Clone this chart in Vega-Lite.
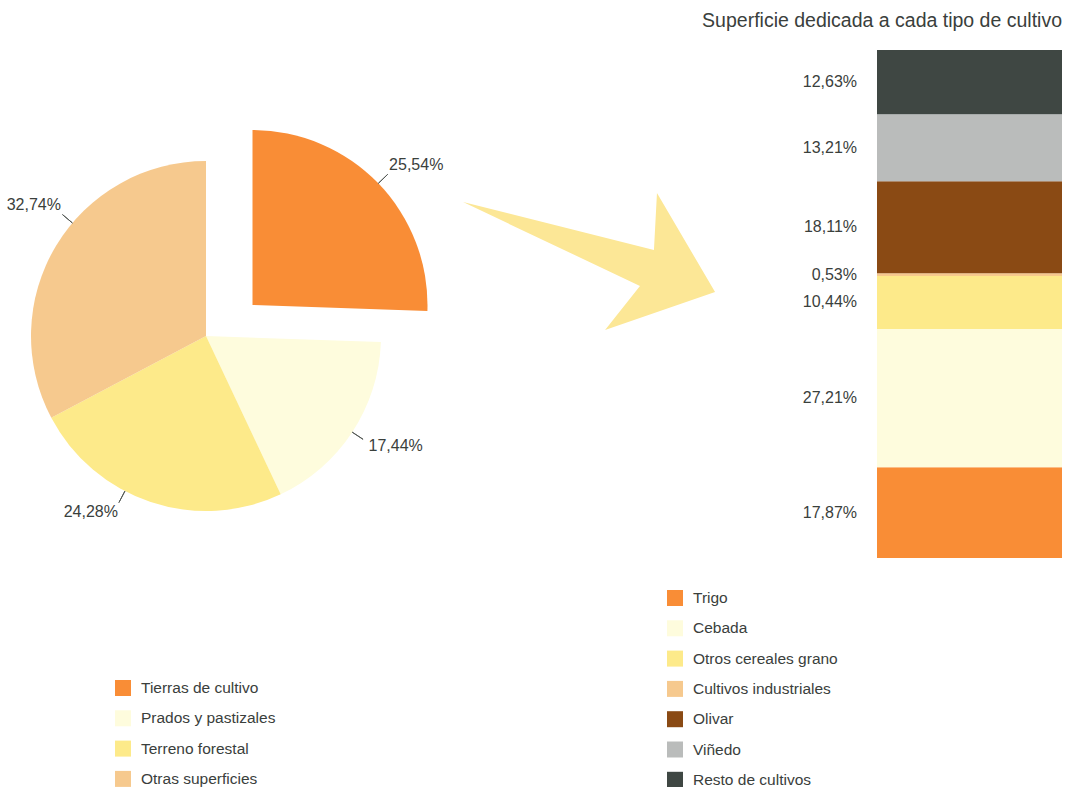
{
  "$schema": "https://vega.github.io/schema/vega-lite/v6.json",
  "padding": {"left": 0, "top": 10, "right": 3, "bottom": 0},
  "background": "white",
  "spacing": 0,
  "bounds": "flush",
  "resolve": {"scale": {"color": "independent"}, "legend": {"color": "independent"}},
  "config": {
    "view": {"stroke": null},
    "font": "Liberation Sans",
    "text": {"font": "Liberation Sans"},
    "legend": {"labelFont": "Liberation Sans"},
    "title": {"font": "Liberation Sans"}
  },
  "datasets": {
    "uso": [
      {"categoria": "Tierras de cultivo", "valor": 25.54, "orden": 1, "etiqueta": "25,54%"},
      {"categoria": "Prados y pastizales", "valor": 17.44, "orden": 2, "etiqueta": "17,44%"},
      {"categoria": "Terreno forestal", "valor": 24.28, "orden": 3, "etiqueta": "24,28%"},
      {"categoria": "Otras superficies", "valor": 32.74, "orden": 4, "etiqueta": "32,74%"}
    ],
    "cultivos": [
      {"cultivo": "Trigo", "valor": 17.87, "orden": 1, "etiqueta": "17,87%", "grupo": "Superficie"},
      {"cultivo": "Cebada", "valor": 27.21, "orden": 2, "etiqueta": "27,21%", "grupo": "Superficie"},
      {"cultivo": "Otros cereales grano", "valor": 10.44, "orden": 3, "etiqueta": "10,44%", "grupo": "Superficie"},
      {"cultivo": "Cultivos industriales", "valor": 0.53, "orden": 4, "etiqueta": "0,53%", "grupo": "Superficie"},
      {"cultivo": "Olivar", "valor": 18.11, "orden": 5, "etiqueta": "18,11%", "grupo": "Superficie"},
      {"cultivo": "Viñedo", "valor": 13.21, "orden": 6, "etiqueta": "13,21%", "grupo": "Superficie"},
      {"cultivo": "Resto de cultivos", "valor": 12.63, "orden": 7, "etiqueta": "12,63%", "grupo": "Superficie"}
    ],
    "flecha": [{"forma": "flecha"}]
  },
  "hconcat": [
    {
      "width": 412,
      "height": 572,
      "data": {"name": "uso"},
      "transform": [
        {"stack": "valor", "groupby": [], "sort": [{"field": "orden", "order": "ascending"}], "as": ["t0", "t1"]},
        {"calculate": "(datum.t0 + datum.t1) / 2", "as": "tm"}
      ],
      "layer": [
        {
          "transform": [{"filter": "datum.orden != 1"}],
          "mark": {"type": "arc", "radius": 175},
          "encoding": {
            "theta": {"field": "t0", "type": "quantitative", "stack": null, "scale": {"domain": [0, 100], "range": [0, 6.283185307]}},
            "theta2": {"field": "t1"},
            "color": {
              "field": "categoria", "type": "nominal",
              "scale": {"domain": ["Tierras de cultivo", "Prados y pastizales", "Terreno forestal", "Otras superficies"], "range": ["#F98D36", "#FEFCDD", "#FDEA8A", "#F6C98E"]},
              "legend": {"orient": "none", "legendX": 115, "legendY": 630, "direction": "vertical", "title": null, "symbolType": "square", "symbolSize": 256, "symbolStrokeWidth": 0, "symbolOpacity": 1, "labelFontSize": 15.5, "labelColor": "#3a403c", "rowPadding": 13.3, "labelOffset": 10, "padding": 0}
            }
          }
        },
        {
          "transform": [{"filter": "datum.orden == 1"}],
          "mark": {"type": "arc", "radius": 175, "xOffset": 46.5, "yOffset": -31},
          "encoding": {
            "theta": {"field": "t0", "type": "quantitative", "stack": null, "scale": {"domain": [0, 100], "range": [0, 6.283185307]}},
            "theta2": {"field": "t1"},
            "color": {"field": "categoria", "type": "nominal"}
          }
        },
        {
          "transform": [{"filter": "datum.orden == 1"}],
          "mark": {"type": "arc", "radius": 188, "radius2": 175, "filled": false, "color": "#555a56", "strokeWidth": 1, "xOffset": 46.5, "yOffset": -31},
          "encoding": {
            "theta": {"field": "tm", "type": "quantitative", "stack": null},
            "theta2": {"field": "tm"}
          }
        },
        {
          "transform": [{"filter": "datum.orden == 2"}],
          "mark": {"type": "arc", "radius": 188, "radius2": 175, "filled": false, "color": "#555a56", "strokeWidth": 1},
          "encoding": {
            "theta": {"field": "tm", "type": "quantitative", "stack": null},
            "theta2": {"field": "tm"}
          }
        },
        {
          "transform": [{"filter": "datum.orden >= 3"}],
          "mark": {"type": "arc", "radius": 188, "radius2": 175, "filled": false, "color": "#555a56", "strokeWidth": 1, "thetaOffset": 0.16, "theta2Offset": 0.16},
          "encoding": {
            "theta": {"field": "tm", "type": "quantitative", "stack": null},
            "theta2": {"field": "tm"}
          }
        },
        {
          "transform": [{"filter": "datum.orden == 1"}],
          "mark": {"type": "text", "radius": 190, "align": "left", "baseline": "bottom", "fontSize": 16, "color": "#3a403c", "xOffset": 46.5, "yOffset": -31},
          "encoding": {
            "theta": {"field": "tm", "type": "quantitative", "stack": null},
            "text": {"field": "etiqueta"}
          }
        },
        {
          "transform": [{"filter": "datum.orden == 2"}],
          "mark": {"type": "text", "radius": 192, "align": "left", "baseline": "top", "fontSize": 16, "color": "#3a403c", "thetaOffset": -0.02},
          "encoding": {
            "theta": {"field": "tm", "type": "quantitative", "stack": null},
            "text": {"field": "etiqueta"}
          }
        },
        {
          "transform": [{"filter": "datum.orden == 3"}],
          "mark": {"type": "text", "radius": 190, "align": "right", "baseline": "top", "fontSize": 16, "color": "#3a403c", "thetaOffset": 0.16},
          "encoding": {
            "theta": {"field": "tm", "type": "quantitative", "stack": null},
            "text": {"field": "etiqueta"}
          }
        },
        {
          "transform": [{"filter": "datum.orden == 4"}],
          "mark": {"type": "text", "radius": 190, "align": "right", "baseline": "bottom", "fontSize": 16, "color": "#3a403c", "thetaOffset": 0.16},
          "encoding": {
            "theta": {"field": "tm", "type": "quantitative", "stack": null},
            "text": {"field": "etiqueta"}
          }
        }
      ]
    },
    {
      "width": 465,
      "height": 572,
      "data": {"name": "flecha"},
      "mark": {"type": "point", "shape": "M-1.44,-1.063L0.075,-0.683L0.099,-1.135L0.56,-0.349L-0.313,-0.048L-0.036,-0.397Z", "size": 63504, "filled": true, "color": "#FCE796", "opacity": 1, "strokeWidth": 0},
      "encoding": {}
    },
    {
      "width": 185,
      "height": 508,
      "title": {"text": "Superficie dedicada a cada tipo de cultivo", "anchor": "end", "frame": "group", "fontSize": 19.5, "fontWeight": "normal", "color": "#3a403c", "offset": 19},
      "data": {"name": "cultivos"},
      "transform": [
        {"stack": "valor", "groupby": [], "sort": [{"field": "orden", "order": "ascending"}], "as": ["y0", "y1"]},
        {"calculate": "(datum.y0 + datum.y1) / 2", "as": "ym"}
      ],
      "layer": [
        {
          "mark": {"type": "bar"},
          "encoding": {
            "x": {"field": "grupo", "type": "nominal", "axis": null, "scale": {"paddingInner": 0, "paddingOuter": 0}},
            "y": {"field": "y1", "type": "quantitative", "axis": null, "scale": {"domain": [0, 100], "nice": false}},
            "y2": {"field": "y0"},
            "color": {
              "field": "cultivo", "type": "nominal",
              "scale": {"domain": ["Trigo", "Cebada", "Otros cereales grano", "Cultivos industriales", "Olivar", "Viñedo", "Resto de cultivos"], "range": ["#F98D36", "#FEFCDD", "#FDEA8A", "#F6C98E", "#8A4A14", "#BABCBB", "#3F4743"]},
              "legend": {"orient": "none", "legendX": -210, "legendY": 540, "direction": "vertical", "title": null, "symbolType": "square", "symbolSize": 256, "symbolStrokeWidth": 0, "symbolOpacity": 1, "labelFontSize": 15.5, "labelColor": "#3a403c", "rowPadding": 13.3, "labelOffset": 10, "padding": 0}
            }
          }
        },
        {
          "mark": {"type": "text", "align": "right", "dx": -20, "fontSize": 16, "color": "#3a403c"},
          "encoding": {
            "x": {"field": "grupo", "type": "nominal", "bandPosition": 0, "axis": null},
            "y": {"field": "ym", "type": "quantitative", "scale": {"domain": [0, 100], "nice": false}},
            "text": {"field": "etiqueta"}
          }
        }
      ]
    }
  ]
}
